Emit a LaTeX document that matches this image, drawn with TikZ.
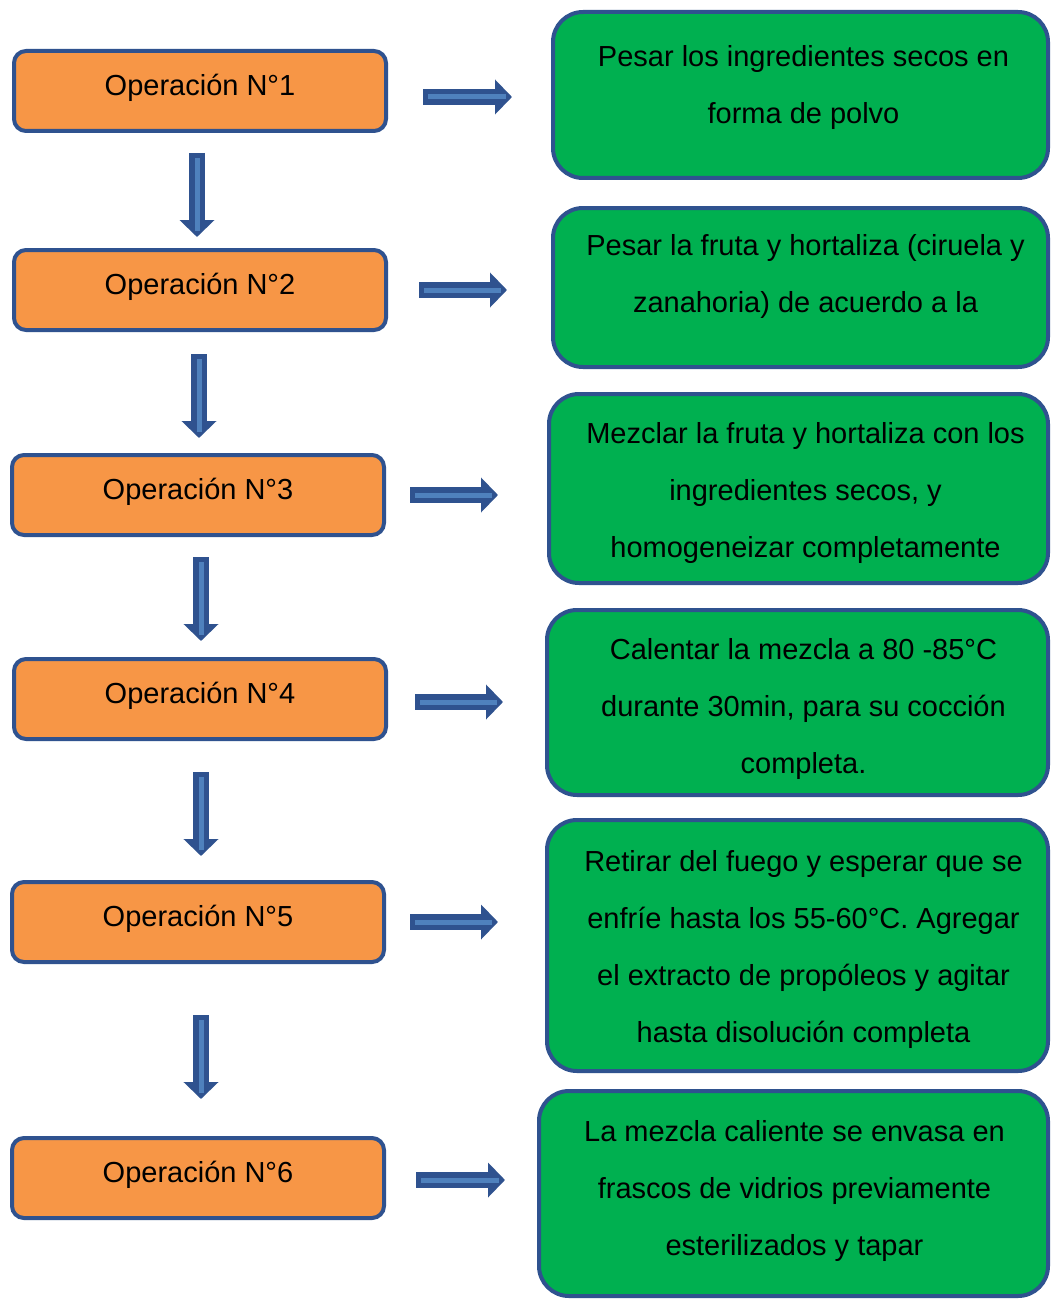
\documentclass[tikz,border=0pt]{standalone}
\usepackage{fontspec}
\setmainfont{Liberation Sans}
\usetikzlibrary{arrows.meta}

\definecolor{azul}{HTML}{2F528F}
\definecolor{celeste}{HTML}{4F81BD}
\definecolor{naranja}{HTML}{F79646}
\definecolor{verde}{HTML}{00B050}

\begin{document}
\begin{tikzpicture}[x=1pt, y=-1pt,
	operacion/.style={draw=azul, line width=4pt, fill=naranja, rounded corners=12pt,
		minimum width=372pt, minimum height=80pt, inner sep=0pt, text depth=12pt,
		font=\fontsize{29}{35}\selectfont},
	paso/.style={draw=azul, line width=4pt, fill=verde, rounded corners=30pt, inner sep=0pt},
	texto/.style={align=center, inner sep=0pt, font=\fontsize{29}{57}\selectfont},
	flecha/.style={draw=azul, line width=16pt, -{Triangle[length=17pt,width=34pt]},
		postaction={draw=celeste, line width=5pt, shorten <=5pt, shorten >=6pt, -}}]

% Page
\clip (0,0) rectangle (1050,1300);
\fill[white] (0,0) rectangle (1050,1300);

% Operations
\node[operacion] (o1) at (200,91) {Operación N°1};
\node[operacion] (o2) at (200,290) {Operación N°2};
\node[operacion] (o3) at (198,495) {Operación N°3};
\node[operacion] (o4) at (200,699) {Operación N°4};
\node[operacion] (o5) at (198,922) {Operación N°5};
\node[operacion] (o6) at (198,1178) {Operación N°6};

% Steps
\node[paso, minimum width=495pt, minimum height=166pt] (p1) at (800.5,95) {};
\node[paso, minimum width=495pt, minimum height=159pt] (p2) at (800.5,287.5) {};
\node[paso, minimum width=499pt, minimum height=189pt] (p3) at (798.5,488.5) {};
\node[paso, minimum width=501pt, minimum height=185pt] (p4) at (797.5,702.5) {};
\node[paso, minimum width=501pt, minimum height=251pt] (p5) at (797.5,945.5) {};
\node[paso, minimum width=509pt, minimum height=205pt] (p6) at (793.5,1193.5) {};

\node[texto] (t1) at ([shift={(3,-7)}]p1) {Pesar los ingredientes secos en\\forma de polvo};
\node[texto] (t2) at ([shift={(5,-11)}]p2) {Pesar la fruta y hortaliza (ciruela y\\zanahoria) de acuerdo a la};
\node[texto] (t3) at ([shift={(7,4)}]p3) {Mezclar la fruta y hortaliza con los\\ingredientes secos, y\\homogeneizar completamente};
\node[texto] (t4) at ([shift={(6,6)}]p4) {Calentar la mezcla a 80 -85°C\\durante 30min, para su cocción\\completa.};
\node[texto] (t5) at ([shift={(6,4)}]p5) {Retirar del fuego y esperar que se\\enfríe hasta los 55-60°C. Agregar\\el extracto de propóleos y agitar\\hasta disolución completa};
\node[texto] (t6) at ([shift={(1,-3)}]p6) {La mezcla caliente se envasa en\\frascos de vidrios previamente\\esterilizados y tapar};

% Arrows to the steps
\foreach \i/\dx/\dy/\len in {1/35/6/89, 2/31/0/88, 3/24/0/88, 4/27/3/88, 5/24/0/88, 6/30/2/89}
	\draw[flecha] ([xshift=\dx, yshift=-\dy]o\i.east) -- ++(\len,0);

% Arrows between operations
\foreach \i/\dx/\dy in {1/-3/20, 2/-1/22, 3/3/20, 4/1/31, 5/3/51}
	\draw[flecha] ([xshift=\dx, yshift=-\dy]o\i.south) -- ++(0,84);

\end{tikzpicture}
\end{document}
